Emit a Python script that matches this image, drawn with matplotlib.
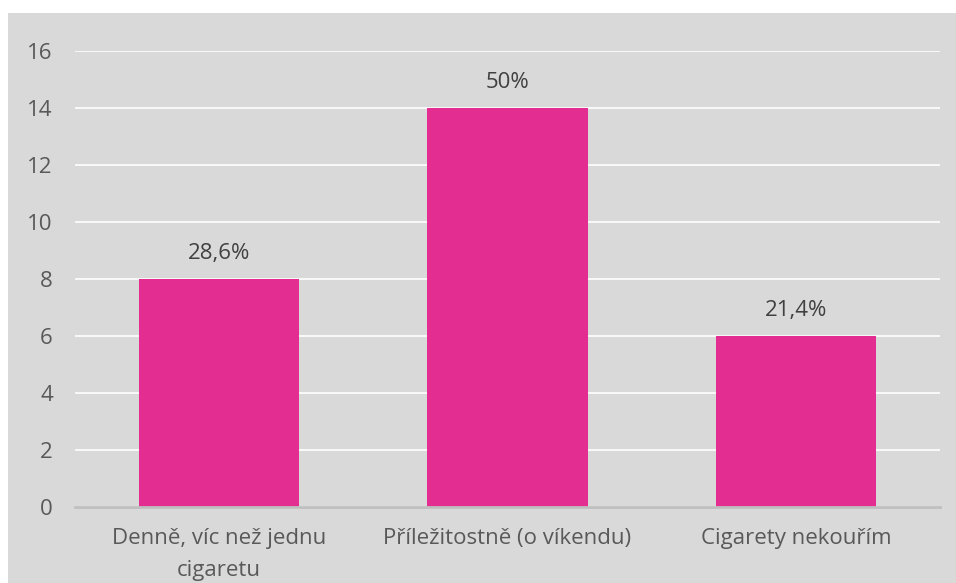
import matplotlib
matplotlib.use("Agg")
import matplotlib.pyplot as plt
from matplotlib.patches import Rectangle

categories = ["Denně, víc než jednu\ncigaretu", "Příležitostně (o víkendu)", "Cigarety nekouřím"]
counts = [8, 14, 6]
labels = ["28,6%", "50%", "21,4%"]
yticks = [0, 2, 4, 6, 8, 10, 12, 14, 16]

bg = "#d9d9d9"
bar_color = "#e32d91"
text_color = "#595959"

plt.rcParams["font.family"] = ["Open Sans", "DejaVu Sans"]

fig = plt.figure(figsize=(9.56, 5.83), dpi=100)
fig.patch.set_facecolor("white")
# gray chart area
fig.add_artist(Rectangle((8 / 956, 0), 1, 1 - 13 / 583, transform=fig.transFigure,
                         facecolor=bg, edgecolor="none", zorder=0))

ax = fig.add_axes([75 / 956, 1 - 507 / 583, (940 - 75) / 956, (507 - 51) / 583])
ax.set_facecolor(bg)
ax.patch.set_alpha(0)

x = range(len(categories))
ax.bar(x, counts, width=0.557, color=bar_color, zorder=3)
ax.set_xlim(-0.5, 2.5)
ax.set_ylim(0, 16)
ax.set_yticks(yticks)
ax.grid(axis="y", color="white", linewidth=1.2, zorder=1)
ax.set_axisbelow(True)
for s in ["top", "right", "left"]:
    ax.spines[s].set_visible(False)
ax.spines["bottom"].set_color("#bfbfbf")
ax.spines["bottom"].set_linewidth(2)
ax.spines["bottom"].set_zorder(4)

ax.set_xticks(list(x))
ax.set_xticklabels(categories, fontsize=16, color=text_color, linespacing=1.7)
ax.tick_params(axis="x", length=0, pad=15)
ax.tick_params(axis="y", length=0, pad=16, labelsize=16, labelcolor=text_color)

for xi, v, lab in zip(x, counts, labels):
    ax.annotate(lab, (xi, v), xytext=(0, 11), textcoords="offset points",
                ha="center", va="bottom", fontsize=16, color="#404040")

fig.savefig("out.png", dpi=100, facecolor=fig.get_facecolor())
